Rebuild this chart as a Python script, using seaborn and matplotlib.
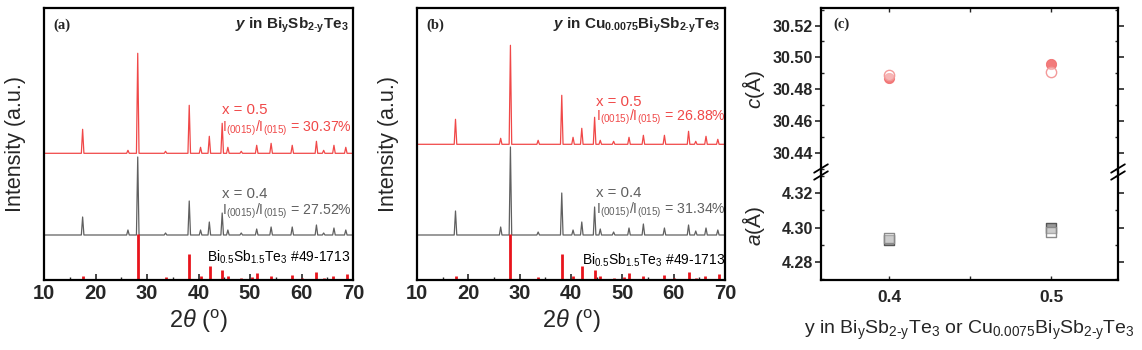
import numpy as np
import pandas as pd
import matplotlib
matplotlib.use("Agg")
import matplotlib.pyplot as plt
from matplotlib.ticker import MultipleLocator
import seaborn as sns

sns.set_theme(style="white")
plt.rcParams['font.family'] = ['Liberation Sans', 'DejaVu Sans']
plt.rcParams['mathtext.fontset'] = 'custom'
plt.rcParams['mathtext.rm'] = 'Liberation Sans'
plt.rcParams['mathtext.it'] = 'Liberation Sans:italic'
plt.rcParams['mathtext.bf'] = 'Liberation Sans:bold'
plt.rcParams['mathtext.bfit'] = 'Liberation Sans:bold:italic'

# ---------------- data ----------------
peak_pos = [17.5, 26.3, 28.2, 33.6, 38.2, 40.4, 42.1, 44.6, 45.7, 48.3,
            51.3, 54.1, 58.2, 62.9, 64.3, 66.3, 68.6]
# panel (a) Bi_y Sb_2-y Te3
a_red_base = 126.7
a_red_h = [24, 3, 100, 2, 48, 6, 17, 30, 6, 2, 8, 10, 8, 12, 3, 8, 6]
a_gray_base = 45.0
a_gray_h = [18, 5, 78, 2, 34, 5, 13, 22, 5, 2, 6, 8, 8, 10, 2, 7, 5]
# panel (b) Cu0.0075 Bi_y Sb_2-y Te3
b_red_base = 135.7
b_red_h = [25, 6, 99, 4, 49, 7, 16, 27, 4, 3, 7, 9, 9, 13, 3, 8, 5]
b_gray_base = 45.0
b_gray_h = [24, 8, 88, 3, 42, 5, 13, 28, 6, 3, 7, 11, 7, 10, 4, 7, 5]
# reference pattern #49-1713
ref_pos = [17.5, 28.2, 33.6, 38.2, 40.4, 42.2, 44.6, 45.7, 48.3, 50.4,
           51.3, 54.1, 58.2, 60.0, 62.9, 64.3, 66.2, 68.8]
ref_h = [4, 45.7, 2.7, 25.7, 4, 14.3, 10, 4, 2, 3, 7.3, 4, 5, 2, 8, 2, 4, 6]

a_labels = ["x = 0.5", "I$_{(0015)}$/I$_{(015)}$ = 30.37%",
            "x = 0.4", "I$_{(0015)}$/I$_{(015)}$ = 27.52%"]
b_labels = ["x = 0.5", "I$_{(0015)}$/I$_{(015)}$ = 26.88%",
            "x = 0.4", "I$_{(0015)}$/I$_{(015)}$ = 31.34%"]

# panel (c)
y_comp = [0.4, 0.5]
c_bst = [30.4871, 30.4959]
c_cu = [30.4892, 30.4906]
a_bst = [4.2928, 4.2995]
a_cu = [4.2937, 4.2972]

RED = "#f04848"
GRAY = "#606060"
STICK = "#e8141c"


def pattern_df(base, heights, hw=0.25):
    xs, ys = [10.0], [base]
    for p, h in zip(peak_pos, heights):
        xs += [p - hw, p, p + hw]
        ys += [base, base + h, base]
    xs.append(70.0)
    ys.append(base)
    return pd.DataFrame({"two_theta": xs, "I": ys})


fig = plt.figure(figsize=(11.42, 3.5), dpi=100)
W, H = 1142, 350


def ax_rect(l, r, t, b):
    return [l / W, (H - b) / H, (r - l) / W, (b - t) / H]


def xrd_panel(ax, red_base, red_h, gray_base, gray_h, labels, title, tag,
              lab_x, lab_y, bi_x, bi_y):
    sns.lineplot(data=pattern_df(red_base, red_h), x="two_theta", y="I",
                 sort=False, estimator=None, color=RED, lw=0.9, ax=ax)
    sns.lineplot(data=pattern_df(gray_base, gray_h), x="two_theta", y="I",
                 sort=False, estimator=None, color=GRAY, lw=0.9, ax=ax)
    ax.vlines(ref_pos, 0, ref_h, color=STICK, lw=2.0)
    ax.set_xlim(10, 70)
    ax.set_ylim(0, 272)
    ax.set_yticks([])
    ax.xaxis.set_major_locator(MultipleLocator(10))
    ax.xaxis.set_minor_locator(MultipleLocator(5))
    ax.tick_params(axis="x", which="both", direction="in", bottom=True,
                   labelsize=14.5, pad=3)
    ax.tick_params(axis="x", which="major", length=4, width=1.2)
    ax.tick_params(axis="x", which="minor", length=2.5, width=1.0)
    for t in ax.get_xticklabels():
        t.set_fontweight("bold")
    for s in ax.spines.values():
        s.set_visible(True)
        s.set_color("black")
        s.set_linewidth(1.6)
    ax.set_xlabel(r"2$\mathit{\theta}$ ($^\mathrm{o}$)", fontsize=17, labelpad=3)
    ax.set_ylabel("Intensity (a.u.)", fontsize=15.5, labelpad=13)
    fs = 10.2
    ax.text(lab_x, lab_y[0], labels[0], color=RED, fontsize=10.8, va="center")
    ax.text(lab_x, lab_y[1], labels[1], color=RED, fontsize=fs, va="center")
    ax.text(lab_x, lab_y[2], labels[2], color=GRAY, fontsize=10.8, va="center")
    ax.text(lab_x, lab_y[3], labels[3], color=GRAY, fontsize=fs, va="center")
    ax.text(bi_x, bi_y, r"Bi$_{0.5}$Sb$_{1.5}$Te$_3$ #49-1713", color="black",
            fontsize=10, va="center")
    ax.text(0.985, 0.935, title, transform=ax.transAxes, ha="right",
            va="center", fontsize=11, fontweight="bold")
    ax.text(0.03, 0.935, tag, transform=ax.transAxes, ha="left", va="center",
            fontsize=10.5, fontweight="bold", family="Liberation Serif")


ax_a = fig.add_axes(ax_rect(44, 353, 8, 280))
xrd_panel(ax_a, a_red_base, a_red_h, a_gray_base, a_gray_h, a_labels,
          r"$\mathbfit{y}$ in Bi$_\mathbf{y}$Sb$_\mathbf{2\text{-}y}$Te$_\mathbf{3}$",
          "(a)", 44.6, [170, 152, 86, 69], 41.6, 23)

ax_b = fig.add_axes(ax_rect(417, 725, 8, 280))
xrd_panel(ax_b, b_red_base, b_red_h, b_gray_base, b_gray_h, b_labels,
          r"$\mathbfit{y}$ in Cu$_\mathbf{0.0075}$Bi$_\mathbf{y}$Sb$_\mathbf{2\text{-}y}$Te$_\mathbf{3}$",
          "(b)", 44.8, [178, 163, 87, 70], 42.2, 20)

# ---------------- panel (c) ----------------
ax_ct = fig.add_axes(ax_rect(821, 1118, 8, 172))
ax_cb = fig.add_axes(ax_rect(821, 1118, 172, 280), sharex=ax_ct)

df_c = pd.DataFrame({"y": y_comp * 2, "c": c_bst + c_cu,
                     "s": ["BST"] * 2 + ["Cu"] * 2})
df_a = pd.DataFrame({"y": y_comp * 2, "a": a_bst + a_cu,
                     "s": ["BST"] * 2 + ["Cu"] * 2})

sns.scatterplot(data=df_c[df_c.s == "BST"], x="y", y="c", marker="o", s=55,
                color="#f06464", edgecolor="#f06464", alpha=0.85, ax=ax_ct,
                legend=False, zorder=3)
sns.scatterplot(data=df_c[df_c.s == "Cu"], x="y", y="c", marker="o", s=55,
                facecolor=(1, 1, 1, 0.45), edgecolor="#f39a9a", linewidth=1.0,
                ax=ax_ct, legend=False, zorder=4)
sns.scatterplot(data=df_a[df_a.s == "BST"], x="y", y="a", marker="s", s=50,
                color="#9a9a9a", edgecolor="#555555", linewidth=1.0, ax=ax_cb,
                legend=False, zorder=3)
sns.scatterplot(data=df_a[df_a.s == "Cu"], x="y", y="a", marker="s", s=50,
                facecolor=(1, 1, 1, 0.5), edgecolor="#8a8a8a", linewidth=1.0,
                ax=ax_cb, legend=False, zorder=4)

ax_ct.set_xlim(0.358, 0.541)
ax_ct.set_ylim(30.428, 30.531)
ax_cb.set_ylim(4.2696, 4.3322)
ax_ct.yaxis.set_major_locator(MultipleLocator(0.02))
ax_ct.yaxis.set_minor_locator(MultipleLocator(0.01))
ax_cb.yaxis.set_major_locator(MultipleLocator(0.02))
ax_cb.yaxis.set_minor_locator(MultipleLocator(0.01))
ax_cb.xaxis.set_major_locator(MultipleLocator(0.1))
ax_cb.xaxis.set_minor_locator(MultipleLocator(0.05))
ax_ct.yaxis.set_major_formatter(matplotlib.ticker.FormatStrFormatter("%.2f"))
ax_cb.yaxis.set_major_formatter(matplotlib.ticker.FormatStrFormatter("%.2f"))
ax_cb.xaxis.set_major_formatter(matplotlib.ticker.FormatStrFormatter("%.1f"))

for ax in (ax_ct, ax_cb):
    for s in ax.spines.values():
        s.set_visible(True)
        s.set_color("black")
        s.set_linewidth(1.6)
    ax.tick_params(axis="y", which="major", direction="out", left=True,
                   right=True, length=4, width=1.2, labelsize=11.5, pad=2)
    ax.tick_params(axis="y", which="minor", direction="in", left=True,
                   right=True, length=2.5, width=1.0)
    ax.tick_params(axis="x", which="both", direction="in", top=True,
                   bottom=True, length=3, width=1.0)
    for t in ax.get_yticklabels():
        t.set_fontweight("bold")

ax_ct.spines["bottom"].set_visible(False)
ax_cb.spines["top"].set_visible(False)
ax_ct.tick_params(axis="x", which="both", bottom=False, labelbottom=False)
ax_cb.tick_params(axis="x", which="both", top=False, labelsize=12.5, pad=7)
for t in ax_cb.get_xticklabels():
    t.set_fontweight("bold")

ax_ct.set_xlabel("")
ax_ct.set_ylabel(r"$\mathit{c}$(Å)", fontsize=15, labelpad=4)
ax_cb.set_ylabel(r"$\mathit{a}$(Å)", fontsize=15, labelpad=10)
ax_cb.set_xlabel(r"y in Bi$_\mathrm{y}$Sb$_\mathrm{2\text{-}y}$Te$_3$ or "
                 r"Cu$_{0.0075}$Bi$_\mathrm{y}$Sb$_\mathrm{2\text{-}y}$Te$_3$",
                 fontsize=14, labelpad=10)
ax_ct.text(0.04, 0.9, "(c)", transform=ax_ct.transAxes, fontsize=10.5,
           fontweight="bold", family="Liberation Serif", va="center")

# break marks
for xa in (0.0, 1.0):
    for dy in (-0.02, 0.02):
        fig_x = (821 + xa * 297) / W
        fig_y = (H - 172) / H + dy * 0.5
        fig.add_artist(plt.Line2D([fig_x - 0.006, fig_x + 0.006],
                                  [fig_y - 0.012, fig_y + 0.012],
                                  color="black", lw=1.3))

fig.savefig("out.png", dpi=100)
